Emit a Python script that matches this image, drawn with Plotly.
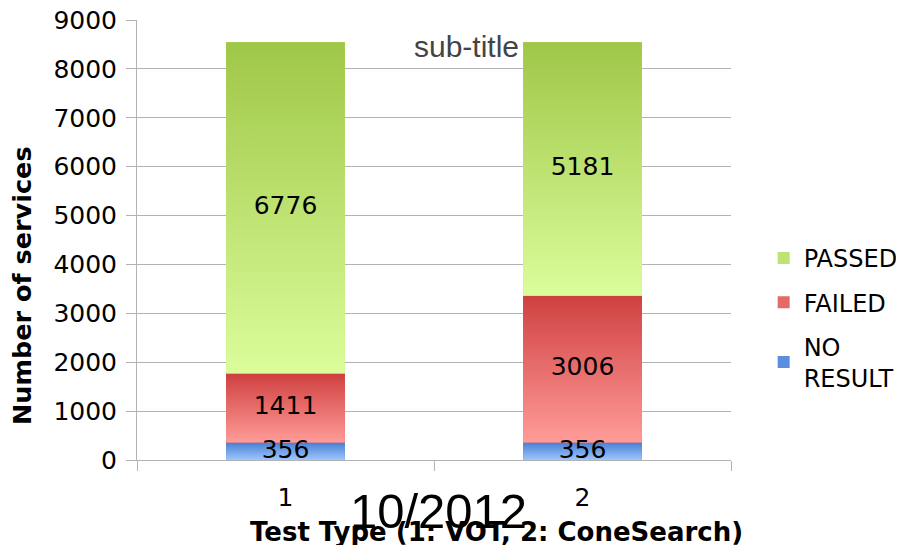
import plotly.graph_objects as go
import numpy as np

# data
test_types = [1, 2]
test_labels = ['1', '2']
no_result = [356, 356]
failed = [1411, 3006]
passed = [6776, 5181]

series = [
    ('NO<br>RESULT', no_result, '#5b8fdc', '#4a7fd2', '#9cc6ff', 3),
    ('FAILED', failed, '#e46a66', '#cf4040', '#ff9c98', 2),
    ('PASSED', passed, '#bfe276', '#9fc747', '#dbfd9b', 1),
]
bar_w = 0.4
font = 'DejaVu Sans'

# page has an 8px body margin, so the figure is made a bit smaller
OFF = 8
W, H = 904 - OFF, 545 - OFF
# plot area in page pixels: x 137..731, y 20..460
l, t = 137 - OFF, 20 - OFF
r = W - (731 - OFF)
b = H - (460 - OFF)
pw, ph = W - l - r, H - t - b

fig = go.Figure()

base = np.zeros(len(test_types))
for name, vals, mid, top, bot, rank in series:
    vals = np.array(vals, dtype=float)
    # plain stacked bars (legend + geometry)
    fig.add_trace(go.Bar(x=test_types, y=vals, name=name, width=bar_w,
                         legendgroup=name, legendrank=rank,
                         marker=dict(color=mid, line=dict(width=0)),
                         hoverinfo='skip'))
    # gradient overlay, one polygon per segment
    for xi, b0, v in zip(test_types, base, vals):
        x0, x1 = xi - bar_w / 2, xi + bar_w / 2
        fig.add_trace(go.Scatter(
            x=[x0, x1, x1, x0, x0], y=[b0, b0, b0 + v, b0 + v, b0],
            mode='none', fill='toself', showlegend=False, hoverinfo='skip',
            fillgradient=dict(type='vertical', colorscale=[[0, bot], [1, top]])))
    base = base + vals

# value labels
base = np.zeros(len(test_types))
for name, vals, mid, top, bot, rank in series:
    vals = np.array(vals, dtype=float)
    fig.add_trace(go.Scatter(x=test_types, y=base + vals / 2, mode='text',
                             text=[str(int(v)) for v in vals], showlegend=False,
                             textfont=dict(family=font, size=25, color='black'),
                             hoverinfo='skip'))
    base = base + vals

grid = '#b3b3b3'
fig.update_layout(
    width=W, height=H,
    margin=dict(l=l, r=r, t=t, b=b, autoexpand=False),
    barmode='stack',
    plot_bgcolor='white', paper_bgcolor='white',
    font=dict(family=font, size=25, color='black'),
    legend=dict(x=1.055, y=(460 - 318) / 440, xanchor='left', yanchor='middle',
                traceorder='grouped', tracegroupgap=10,
                font=dict(size=24)),
    xaxis=dict(range=[0.5, 2.5], tickvals=test_types, ticktext=test_labels,
               ticks='', showgrid=False, showline=True, linecolor=grid,
               linewidth=1, zeroline=False, ticklabelstandoff=15,
               automargin=False, ticklabeloverflow='allow',
               minor=dict(tickvals=[0.5, 1.5, 2.5], ticks='outside',
                          ticklen=10, tickcolor=grid, tickwidth=1)),
    yaxis=dict(range=[0, 9000], tickvals=list(range(0, 9001, 1000)),
               showgrid=True, gridcolor=grid,
               gridwidth=1, showline=True, linecolor=grid, linewidth=1,
               ticks='outside', ticklen=10, tickcolor=grid, zeroline=False,
               ticklabelstandoff=4, automargin=False,
               ticklabeloverflow='allow'),
    annotations=[
        dict(text='Number of services', textangle=-90, x=22, y=286,
             showarrow=False,
             font=dict(family=font, size=25.5, color='black', weight='bold')),
        dict(text='sub-title', x=466, y=46, showarrow=False,
             font=dict(family='Liberation Sans', size=30, color='#444444')),
        dict(text='Test Type (1: VOT, 2: ConeSearch)', x=496, y=532,
             showarrow=False,
             font=dict(family=font, size=26, color='black', weight='bold')),
        dict(text='10/2012', x=438, y=511, showarrow=False,
             font=dict(family='Liberation Sans', size=49, color='black')),
    ],
)

# annotation positions given in page pixels -> convert to paper coords
for a in fig.layout.annotations:
    a.xref = 'paper'
    a.yref = 'paper'
    a.x = (a.x - OFF - l) / pw
    a.y = (H - b - (a.y - OFF)) / ph
    a.xanchor = 'center'
    a.yanchor = 'middle'

fig.write_html("out.html")
